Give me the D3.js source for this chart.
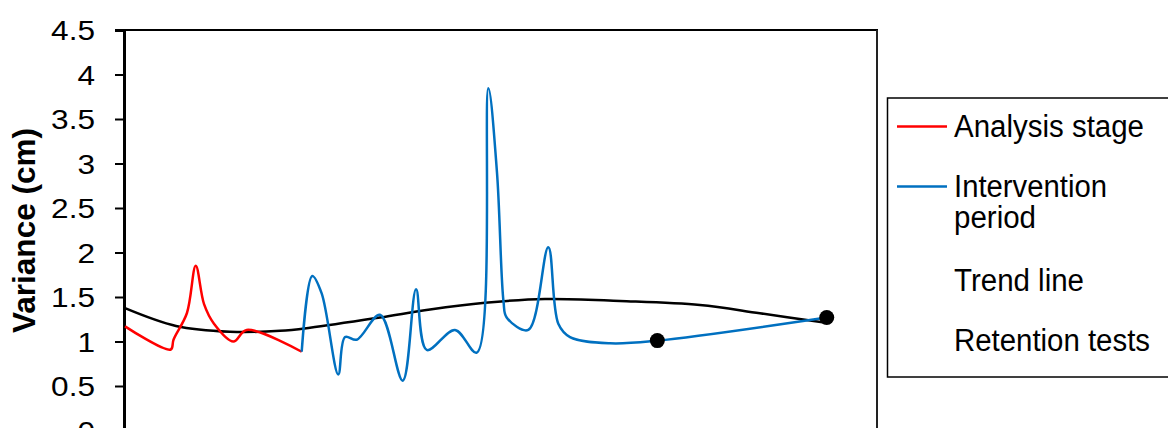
<!DOCTYPE html>
<html>
<head>
<meta charset="utf-8">
<script src="https://cdn.jsdelivr.net/npm/d3@7"></script>
<style>
  html, body { margin: 0; padding: 0; background: #fff; }
  svg { display: block; font-family: Arial, "Liberation Sans", sans-serif; }
</style>
</head>
<body>
<svg id="chart" width="1168" height="428"></svg>
<script>
// ---- data (x in days, y = variance in cm) ----
const analysisDays = [0.08, 3.72, 3.94, 5.01, 5.71, 6.37, 7.16, 8.70, 9.76, 14.14];
const analysisVar  = [1.17, 0.91, 1.02, 1.32, 1.85, 1.42, 1.20, 1.00, 1.13, 0.885];

const interventionDays = [14.14, 14.98, 15.73, 17.05, 17.59, 18.52, 20.37, 22.18, 23.24, 24.09, 26.34, 28.07, 28.99, 29.68, 30.20, 30.45, 32.17, 33.76, 34.56, 35.49, 38.67, 42.44, 55.92];
const interventionVar  = [0.885, 1.736, 1.54, 0.63, 1.05, 1.02, 1.30, 0.56, 1.586, 0.905, 1.13, 0.875, 3.845, 2.9, 1.45, 1.27, 1.13, 2.06, 1.20, 1.05, 0.98, 1.01, 1.27];

const trendDays = [0.08, 4.14, 8.43, 12.41, 14.8, 20.37, 24.35, 28.73, 33.5, 39.47, 45.83, 50.6, 55.86];
const trendVar  = [1.375, 1.175, 1.11, 1.12, 1.155, 1.27, 1.36, 1.435, 1.478, 1.455, 1.41, 1.317, 1.21];

const retentionDays = [42.44, 55.92];
const retentionVar  = [1.01, 1.27];

const yTicks = [0, 0.5, 1, 1.5, 2, 2.5, 3, 3.5, 4, 4.5];
const legendItems = [
  { label: ["Analysis stage"], color: "#FF0000", lens: [190] },
  { label: ["Intervention", "period"], color: "#0070C0", lens: [153, 82] },
  { label: ["Trend line"], color: null, lens: [130] },
  { label: ["Retention tests"], color: null, lens: [196] }
];

// ---- scales ----
const svg = d3.select("#chart");
const x = d3.scaleLinear().domain([0, 60]).range([124, 878]);
const y = d3.scaleLinear().domain([0, 4.5]).range([430.5, 30]);

const zip = (xs, ys) => xs.map((d, i) => [d, ys[i]]);
const line = d3.line().x(d => x(d[0])).y(d => y(d[1])).curve(d3.curveCatmullRom.alpha(0.5));

// ---- frame ----
svg.append("line").attr("x1", x(0)).attr("x2", x(60)).attr("y1", y(4.5)).attr("y2", y(4.5))
  .attr("stroke", "#000").attr("stroke-width", 2);
svg.append("line").attr("x1", x(60) - 1).attr("x2", x(60) - 1).attr("y1", y(4.5)).attr("y2", 440)
  .attr("stroke", "#222").attr("stroke-width", 2);

// ---- y axis ----
const yAxis = d3.axisLeft(y).tickValues(yTicks).tickSize(9).tickFormat(d3.format("~g"));
const gy = svg.append("g").attr("transform", `translate(${x(0)},0)`).call(yAxis);
gy.select(".domain").attr("stroke", "#000").attr("stroke-width", 3);
gy.selectAll(".tick line").attr("stroke", "#000").attr("stroke-width", 2);
gy.selectAll(".tick text")
  .attr("x", 0).attr("dy", null).attr("y", 9.5)
  .attr("font-size", 27).attr("fill", "#000")
  .attr("font-family", "Arial, 'Liberation Sans', sans-serif")
  .attr("text-anchor", "end")
  .attr("transform", "translate(-29,0) scale(1.17,1)");

svg.append("text")
  .attr("transform", `translate(35,230.5) rotate(-90)`)
  .attr("text-anchor", "middle")
  .attr("font-size", 31).attr("font-weight", "bold")
  .attr("textLength", 205).attr("lengthAdjust", "spacingAndGlyphs")
  .text("Variance (cm)");

// ---- series ----
svg.append("path").datum(zip(trendDays, trendVar)).attr("d", line)
  .attr("fill", "none").attr("stroke", "#000").attr("stroke-width", 2.5);
svg.append("path").datum(zip(analysisDays, analysisVar)).attr("d", line)
  .attr("fill", "none").attr("stroke", "#FF0000").attr("stroke-width", 2.5);
svg.append("path").datum(zip(interventionDays, interventionVar)).attr("d", line)
  .attr("fill", "none").attr("stroke", "#0070C0").attr("stroke-width", 2.5);
svg.selectAll("circle.ret").data(zip(retentionDays, retentionVar)).enter().append("circle")
  .attr("class", "ret").attr("cx", d => x(d[0])).attr("cy", d => y(d[1])).attr("r", 7.5).attr("fill", "#000");

// ---- legend ----
const lg = svg.append("g");
lg.append("rect").attr("x", 887.5).attr("y", 98).attr("width", 320).attr("height", 279)
  .attr("fill", "#fff").attr("stroke", "#000").attr("stroke-width", 1.5);
const rowBase = [137, 197, 291, 351];
legendItems.forEach((it, i) => {
  const b = rowBase[i];
  if (it.color) {
    lg.append("line").attr("x1", 897).attr("x2", 947).attr("y1", b - 10.5).attr("y2", b - 10.5)
      .attr("stroke", it.color).attr("stroke-width", 2.5);
  }
  it.label.forEach((t, j) => {
    lg.append("text").attr("x", 954).attr("y", b + j * 31)
      .attr("font-size", 31).attr("fill", "#000")
      .attr("textLength", it.lens[j]).attr("lengthAdjust", "spacingAndGlyphs")
      .text(t);
  });
});
</script>
</body>
</html>
